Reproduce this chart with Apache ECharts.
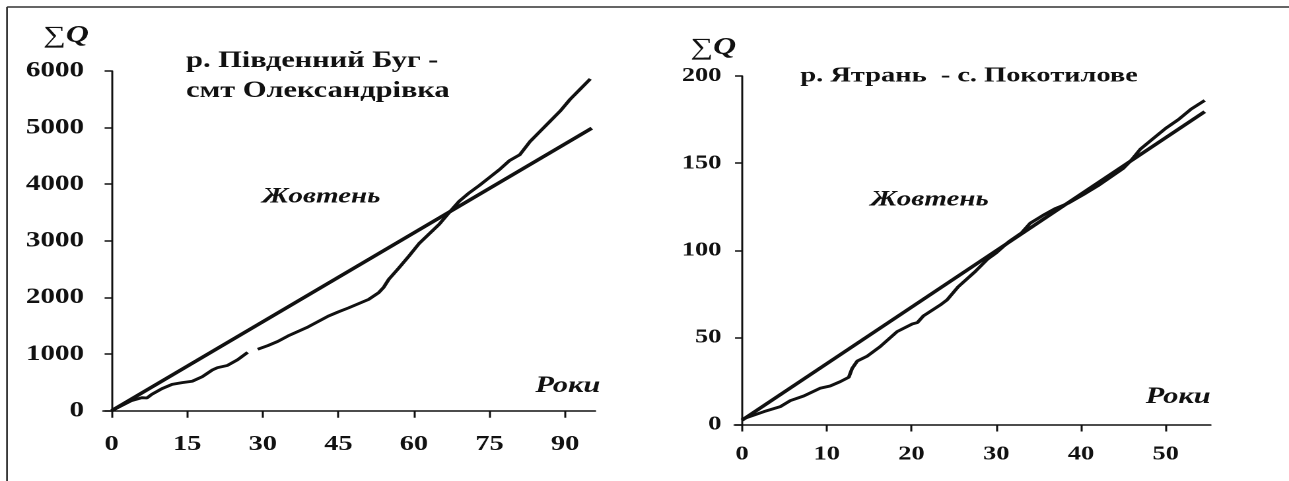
<!DOCTYPE html>
<html><head><meta charset="utf-8">
<script src="https://cdn.jsdelivr.net/npm/echarts@6/dist/echarts.min.js"></script>
<style>
html,body{margin:0;padding:0;background:#fff;}
#wrap{width:1289px;height:481px;overflow:hidden;position:relative;background:#fff;}
#main{position:absolute;left:0;top:0;height:481px;transform-origin:0 0;}
</style></head><body>
<div id="wrap"><div id="main"></div></div>
<script>
// ---- Data: р. Південний Буг - смт Олександрівка (Жовтень) ----
const bugYears = [0,2,4,6,7,8,10,12,14,16,18,20,21,23,25,27,28,29,31,33,35,37,39,41,43,45,47,49,51,53,54,55,57,59,61,63,65,67,69,71,73,75,77,79,81,83,85,87,89,91,93,95];
const bugSumQ  = [0,90,180,230,225,290,390,465,495,520,600,720,760,800,900,1030,null,1085,1150,1225,1320,1400,1480,1575,1670,1745,1815,1890,1965,2085,2180,2320,2520,2730,2950,3120,3290,3500,3700,3850,3980,4120,4260,4420,4520,4750,4930,5110,5290,5500,5680,5860];
const bugTrendYears = [0, 95.3];
const bugTrendQ = [0, 4990];
const bugXTicks = [0, 15, 30, 45, 60, 75, 90];

// ---- Data: р. Ятрань - с. Покотилове (Жовтень) ----
const yatYears = [0,2.6,4.5,5.7,7.3,9.2,10.4,11.6,12.6,13.0,13.6,14.8,16.3,18.3,20.1,20.7,21.4,23.4,24.2,25.5,27.5,29,30,31.5,33,34,35.5,37,38.5,40.3,42,43.5,45,46,47,48.5,50,51.5,53,54.6];
const yatSumQ  = [3,7.4,10.2,13.7,16.4,20.8,22.1,24.6,27.1,32.2,36.4,39.3,44.7,53.3,57.7,58.5,62.3,68.6,71.5,79,87.7,95,98.5,105,110,115.5,120,124,127,132,137,142,147,152,158,164,170,175,181,186];
const yatTrendYears = [0, 54.6];
const yatTrendQ = [2.5, 179.5];
const yatXTicks = [0, 10, 20, 30, 40, 50];

// ---- Layout ----
const S = 1.32, W = 1289 / S, H = 481;
const sx = v => v / S;
const serif = 'Liberation Serif';
const ink = '#111';
const el = document.getElementById('main');
el.style.width = W + 'px';
el.style.transform = 'scaleX(' + S + ')';
const chart = echarts.init(el, null, {renderer: 'canvas', width: W, height: H, devicePixelRatio: 2});

const pairs = (xs, ys) => xs.map((x, i) => [x, ys[i] == null ? '-' : ys[i]]);
const plain = v => String(v);

function xAxisCfg(grid, min, max, ticks, fs, margin) {
  return {gridIndex: grid, type: 'value', min: min, max: max,
    axisLine: {show: true, onZero: true, lineStyle: {color: ink, width: 1.5}},
    axisTick: {show: true, customValues: ticks, length: 7, inside: false, lineStyle: {color: ink, width: 1.5}},
    axisLabel: {show: true, customValues: ticks, formatter: plain, margin: margin, fontSize: fs, fontWeight: 'bold', fontFamily: serif, color: ink},
    splitLine: {show: false}};
}
function yAxisCfg(grid, max, interval, fs, margin) {
  return {gridIndex: grid, type: 'value', min: 0, max: max, interval: interval,
    axisLine: {show: true, onZero: true, lineStyle: {color: ink, width: 1.5}},
    axisTick: {show: true, length: sx(7), inside: false, lineStyle: {color: ink, width: 1.5}},
    axisLabel: {show: true, formatter: plain, margin: sx(margin), fontSize: fs, fontWeight: 'bold', fontFamily: serif, color: ink},
    splitLine: {show: false}};
}
function txt(x, y, text, fs, opts) {
  opts = opts || {};
  return {type: 'text', x: sx(x), y: y, silent: true,
    style: {text: text, fontSize: fs, fontFamily: serif, fontWeight: opts.weight || 'bold',
      fontStyle: opts.style || 'normal', fill: ink,
      align: opts.align || 'left', textAlign: opts.align || 'left',
      verticalAlign: 'middle', textVerticalAlign: 'middle'}};
}
function sigmaQ(x, y) {
  return {type: 'text', x: sx(x), y: y, silent: true,
    style: {text: '{s|∑}{q|Q}', align: 'center', textAlign: 'center', verticalAlign: 'middle', textVerticalAlign: 'middle',
      rich: {s: {fontSize: 24, fontStyle: 'italic', fontFamily: serif, fill: ink, color: ink},
             q: {fontSize: 24, fontStyle: 'italic', fontWeight: 'bold', fontFamily: serif, fill: ink, color: ink}}}};
}

const option = {
  animation: false,
  backgroundColor: '#fff',
  grid: [
    {left: sx(103), top: 71, width: sx(492), height: 339.7, outerBoundsMode: 'none'},
    {left: sx(734), top: 76, width: sx(476), height: 348.5, outerBoundsMode: 'none'}
  ],
  xAxis: [
    xAxisCfg(0, -1.7, 96, bugXTicks, 21.5, 23),
    xAxisCfg(1, -0.9, 55.3, yatXTicks, 20, 20)
  ],
  yAxis: [
    yAxisCfg(0, 6000, 1000, 22, 19),
    yAxisCfg(1, 200, 50, 20, 13)
  ],
  series: [
    {type: 'line', xAxisIndex: 0, yAxisIndex: 0, data: pairs(bugTrendYears, bugTrendQ), symbol: 'none', silent: true,
      lineStyle: {color: ink, width: 3.2}},
    {type: 'line', xAxisIndex: 0, yAxisIndex: 0, data: pairs(bugYears, bugSumQ), symbol: 'none', silent: true, connectNulls: false,
      lineStyle: {color: ink, width: 2.8}},
    {type: 'line', xAxisIndex: 1, yAxisIndex: 1, data: pairs(yatTrendYears, yatTrendQ), symbol: 'none', silent: true,
      lineStyle: {color: ink, width: 3.2}},
    {type: 'line', xAxisIndex: 1, yAxisIndex: 1, data: pairs(yatYears, yatSumQ), symbol: 'none', silent: true,
      lineStyle: {color: ink, width: 2.8}}
  ],
  graphic: [
    {type: 'line', silent: true, shape: {x1: sx(7), y1: 7, x2: W, y2: 7}, style: {stroke: '#333', lineWidth: 1.6}},
    {type: 'line', silent: true, shape: {x1: sx(7), y1: 7, x2: sx(7), y2: H}, style: {stroke: '#333', lineWidth: sx(1.8)}},
    sigmaQ(66, 36),
    txt(186, 61, 'р. Південний Буг -', 23),
    txt(186, 91, 'смт Олександрівка', 23),
    txt(262, 197, 'Жовтень', 22, {style: 'italic'}),
    txt(600, 386, 'Роки', 23, {style: 'italic', align: 'right'}),
    sigmaQ(713, 48),
    txt(800, 76, 'р. Ятрань  - с. Покотилове', 21.5),
    txt(870, 200, 'Жовтень', 22, {style: 'italic'}),
    txt(1210, 397, 'Роки', 23, {style: 'italic', align: 'right'})
  ]
};
chart.setOption(option);
</script>
</body></html>
